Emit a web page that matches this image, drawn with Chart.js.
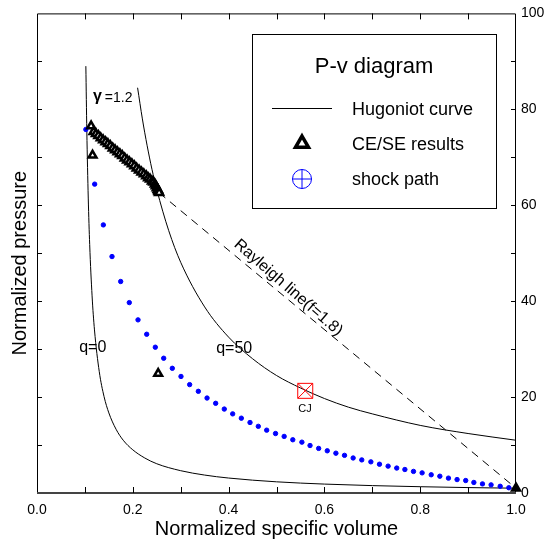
<!DOCTYPE html>
<html><head><meta charset="utf-8">
<script src="https://cdn.jsdelivr.net/npm/chart.js@4.4.1/dist/chart.umd.min.js"></script>
<style>html,body{margin:0;padding:0;background:#fff}</style>
</head><body>
<canvas id="c" width="552" height="545"></canvas>
<script>
// ---------- data ----------
const Q0_V = [0.102,0.104,0.107,0.11,0.115,0.12,0.13,0.14,0.15,0.165,0.18,0.2,0.225,0.25,0.3,0.35,0.4,0.5,0.6,0.7,0.8,0.9,1.0];
const Q0_P = [89.0,75.6,61.5,51.8,41.1,34.0,25.3,20.1,16.7,13.3,11.0,9.0,7.3,6.1,4.65,3.74,3.12,2.33,1.86,1.54,1.31,1.13,1.0];

const Q50_V = [0.21,0.22,0.23,0.24,0.25,0.275,0.3,0.35,0.4,0.45,0.5,0.55,0.6,0.65,0.7,0.8,0.9,1.0];
const Q50_P = [84.5,78.0,72.4,67.5,63.3,54.7,48.1,38.8,32.5,28.0,24.5,21.9,19.7,17.9,16.5,14.1,12.4,11.0];

const RAYLEIGH_V = [0.255, 1.0];
const RAYLEIGH_P = [62.6, 1.0];

const CESE_V = [0.113,0.118,0.123,0.128,0.133,0.138,0.143,0.148,0.153,0.158,0.163,0.168,0.173,0.178,0.183,0.188,0.193,0.198,0.203,0.208,0.213,0.218,0.223,0.228,0.232,0.236,0.240,0.243,0.246,0.248,0.250,0.252,0.253,0.254,0.255,0.116,0.253,1.0];
const CESE_P = [76.5,75.3,74.9,74.5,74.0,73.6,73.2,72.8,72.4,71.9,71.5,71.1,70.7,70.3,69.8,69.4,69.0,68.6,68.2,67.7,67.3,66.9,66.5,66.1,65.7,65.4,65.0,64.8,64.4,64.0,63.6,63.3,63.0,62.8,62.6,70.4,24.9,1.0];

const SHOCK_V = [0.102,0.1204,0.1385,0.1566,0.1747,0.1927,0.2109,0.229,0.247,0.2645,0.2825,0.3006,0.3187,0.3368,0.355,0.373,0.391,0.4085,0.4266,0.4447,0.462,0.4795,0.498,0.516,0.534,0.553,0.570,0.588,0.606,0.624,0.642,0.660,0.678,0.697,0.715,0.733,0.751,0.768,0.786,0.804,0.823,0.841,0.859,0.877,0.895,0.912,0.930,0.948,0.967,0.985,1.0];
const SHOCK_P = [75.8,64.4,55.9,49.3,44.1,39.7,36.1,33.1,30.4,28.1,26.0,24.3,22.6,21.2,19.8,18.7,17.5,16.5,15.6,14.7,13.9,13.1,12.4,11.8,11.1,10.6,9.9,9.3,8.8,8.3,7.85,7.3,6.9,6.5,6.0,5.6,5.2,4.9,4.5,4.2,3.8,3.5,3.1,2.8,2.6,2.2,1.9,1.7,1.4,1.1,1.0];

const CJ_V = [0.56];
const CJ_P = [21.3];

const X_TICK_MARKS = [0.1,0.2,0.3,0.4,0.5,0.6,0.7,0.8,0.9];
const Y_TICK_MARKS = [10,20,30,40,50,60,70,80,90];

const LEGEND_TITLE = 'P-v diagram';
const LEGEND_LABELS = ['Hugoniot curve', 'CE/SE results', 'shock path'];
const X_TITLE = 'Normalized specific volume';
const Y_TITLE = 'Normalized pressure';

// ---------- helpers ----------
const FONT = "'Liberation Sans', Arial, Helvetica, sans-serif";
const pts = (vs, ps) => vs.map((v, i) => ({x: v, y: ps[i]}));

const decor = {
  id: 'decor',
  beforeDatasetsDraw(chart) {
    const {ctx, chartArea: a, scales: {x, y}} = chart;
    ctx.save();
    ctx.strokeStyle = '#000'; ctx.lineWidth = 1;
    ctx.beginPath();
    ctx.moveTo(a.left + 0.5, a.bottom); ctx.lineTo(a.left + 0.5, a.top + 0.5);
    ctx.lineTo(a.right - 0.5, a.top + 0.5); ctx.lineTo(a.right - 0.5, a.bottom);
    ctx.stroke();
    ctx.strokeStyle = '#444'; ctx.lineWidth = 2;
    ctx.beginPath(); ctx.moveTo(a.left, a.bottom); ctx.lineTo(a.right, a.bottom); ctx.stroke();
    ctx.strokeStyle = '#000'; ctx.lineWidth = 1;
    ctx.beginPath();
    X_TICK_MARKS.forEach(v => {
      const px = Math.round(x.getPixelForValue(v)) + 0.5;
      ctx.moveTo(px, a.bottom); ctx.lineTo(px, a.bottom - 6);
      ctx.moveTo(px, a.top); ctx.lineTo(px, a.top + 6);
    });
    Y_TICK_MARKS.forEach(p => {
      const py = Math.round(y.getPixelForValue(p)) + 0.5;
      ctx.moveTo(a.left, py); ctx.lineTo(a.left + 5, py);
      ctx.moveTo(a.right, py); ctx.lineTo(a.right - 5, py);
    });
    ctx.stroke();

    ctx.fillStyle = '#000';
    ctx.textBaseline = 'alphabetic';
    ctx.textAlign = 'left';
    ctx.font = 'bold 16px ' + FONT;
    ctx.fillText('\u03B3', x.getPixelForValue(0.117), y.getPixelForValue(81.7));
    ctx.font = '14px ' + FONT;
    ctx.fillText('=1.2', x.getPixelForValue(0.1415), y.getPixelForValue(81.5));
    ctx.font = '16px ' + FONT;
    ctx.fillText('q=0', x.getPixelForValue(0.088), y.getPixelForValue(29.4));
    ctx.fillText('q=50', x.getPixelForValue(0.374), y.getPixelForValue(29.1));
    ctx.font = '11px ' + FONT;
    ctx.textAlign = 'center'; ctx.textBaseline = 'middle';
    ctx.fillText('CJ', x.getPixelForValue(0.5595), y.getPixelForValue(17.6));
    ctx.save();
    ctx.translate(x.getPixelForValue(0.5246), y.getPixelForValue(42.8));
    ctx.rotate(41 * Math.PI / 180);
    ctx.font = '16px ' + FONT;
    ctx.fillText('Rayleigh line(f=1.8)', 0, 0);
    ctx.restore();
    ctx.save();
    ctx.translate(20, (a.top + a.bottom) / 2 + 10);
    ctx.rotate(-Math.PI / 2);
    ctx.font = '20px ' + FONT;
    ctx.fillText(Y_TITLE, 0, 0);
    ctx.restore();
    ctx.restore();
  },
  afterDatasetsDraw(chart) {
    const {ctx} = chart;
    ctx.save();
    ctx.fillStyle = '#fff';
    ctx.fillRect(252, 34, 245, 175);
    ctx.strokeStyle = '#000'; ctx.lineWidth = 1;
    ctx.strokeRect(252.5, 34.5, 244, 174);
    ctx.fillStyle = '#000';
    ctx.textAlign = 'center'; ctx.textBaseline = 'alphabetic';
    ctx.font = '22px ' + FONT;
    ctx.fillText(LEGEND_TITLE, 374, 73);
    ctx.textAlign = 'left';
    ctx.font = '18px ' + FONT;
    ctx.fillText(LEGEND_LABELS[0], 352, 115);
    ctx.fillText(LEGEND_LABELS[1], 352, 150);
    ctx.fillText(LEGEND_LABELS[2], 352, 185);
    ctx.beginPath(); ctx.moveTo(272, 108.5); ctx.lineTo(332, 108.5); ctx.stroke();
    ctx.lineWidth = 3.5; ctx.lineJoin = 'miter';
    ctx.beginPath();
    for (let i = 0; i < 3; i++) {
      const ang = -Math.PI / 2 + i * 2 * Math.PI / 3;
      ctx.lineTo(302 + 7.5 * Math.cos(ang), 143.5 + 7.5 * Math.sin(ang));
    }
    ctx.closePath(); ctx.fillStyle = '#fff'; ctx.fill(); ctx.stroke();
    ctx.strokeStyle = '#0000ff'; ctx.lineWidth = 1;
    ctx.beginPath(); ctx.arc(302, 179, 9.5, 0, Math.PI * 2);
    ctx.moveTo(292.5, 179); ctx.lineTo(311.5, 179);
    ctx.moveTo(302, 169.5); ctx.lineTo(302, 188.5);
    ctx.stroke();
    ctx.restore();
  }
};

new Chart(document.getElementById('c'), {
  type: 'scatter',
  data: {
    datasets: [
      {label: 'CJ box', data: pts(CJ_V, CJ_P), pointStyle: 'rect', pointRadius: 10.6, borderColor: '#ff0000', backgroundColor: 'rgba(0,0,0,0)', borderWidth: 1, clip: false, order: 0},
      {label: 'CJ x', data: pts(CJ_V, CJ_P), pointStyle: 'crossRot', pointRadius: 10.6, borderColor: '#ff0000', borderWidth: 1, clip: false, order: 0},
      {label: 'CE/SE results', data: pts(CESE_V, CESE_P), pointStyle: 'triangle', pointRadius: 4.5, borderColor: '#000',
       backgroundColor: c => (c.dataIndex === CESE_V.length - 1 ? '#000' : '#fff'), borderWidth: 2.5, clip: false, order: 1},
      {label: 'shock path', data: pts(SHOCK_V, SHOCK_P), pointStyle: 'circle', pointRadius: 2.2, borderColor: '#0000ff', backgroundColor: '#0000ff', borderWidth: 1, clip: false, order: 2},
      {label: 'Rayleigh line', type: 'line', data: pts(RAYLEIGH_V, RAYLEIGH_P), borderColor: '#000', borderWidth: 1, borderDash: [8, 6], pointRadius: 0, fill: false, order: 3},
      {label: 'Hugoniot q=0', type: 'line', data: pts(Q0_V, Q0_P), borderColor: '#000', borderWidth: 1, pointRadius: 0, cubicInterpolationMode: 'monotone', fill: false, order: 4},
      {label: 'Hugoniot q=50', type: 'line', data: pts(Q50_V, Q50_P), borderColor: '#000', borderWidth: 1, pointRadius: 0, cubicInterpolationMode: 'monotone', fill: false, order: 4}
    ]
  },
  options: {
    responsive: false,
    animation: false,
    events: [],
    layout: {padding: {top: 13, left: 37, right: 0, bottom: 0}},
    plugins: {legend: {display: false}, tooltip: {enabled: false}},
    scales: {
      x: {
        type: 'linear', position: 'bottom', min: 0, max: 1,
        grid: {display: false, drawTicks: false},
        border: {display: false},
        ticks: {stepSize: 0.2, padding: 9, color: '#000', font: {family: FONT, size: 14}, callback: v => Number(v).toFixed(1), maxRotation: 0},
        title: {display: true, text: X_TITLE, color: '#000', font: {family: FONT, size: 20}, padding: {top: 0, bottom: 4}},
        afterFit: s => { s.height = 52; }
      },
      y: {
        type: 'linear', position: 'right', min: 0, max: 100,
        grid: {display: false, drawTicks: false},
        border: {display: false},
        ticks: {stepSize: 20, padding: 5, color: '#000', font: {family: FONT, size: 14}},
        afterFit: s => { s.width = 36; }
      }
    }
  },
  plugins: [decor]
});
</script>
</body></html>
